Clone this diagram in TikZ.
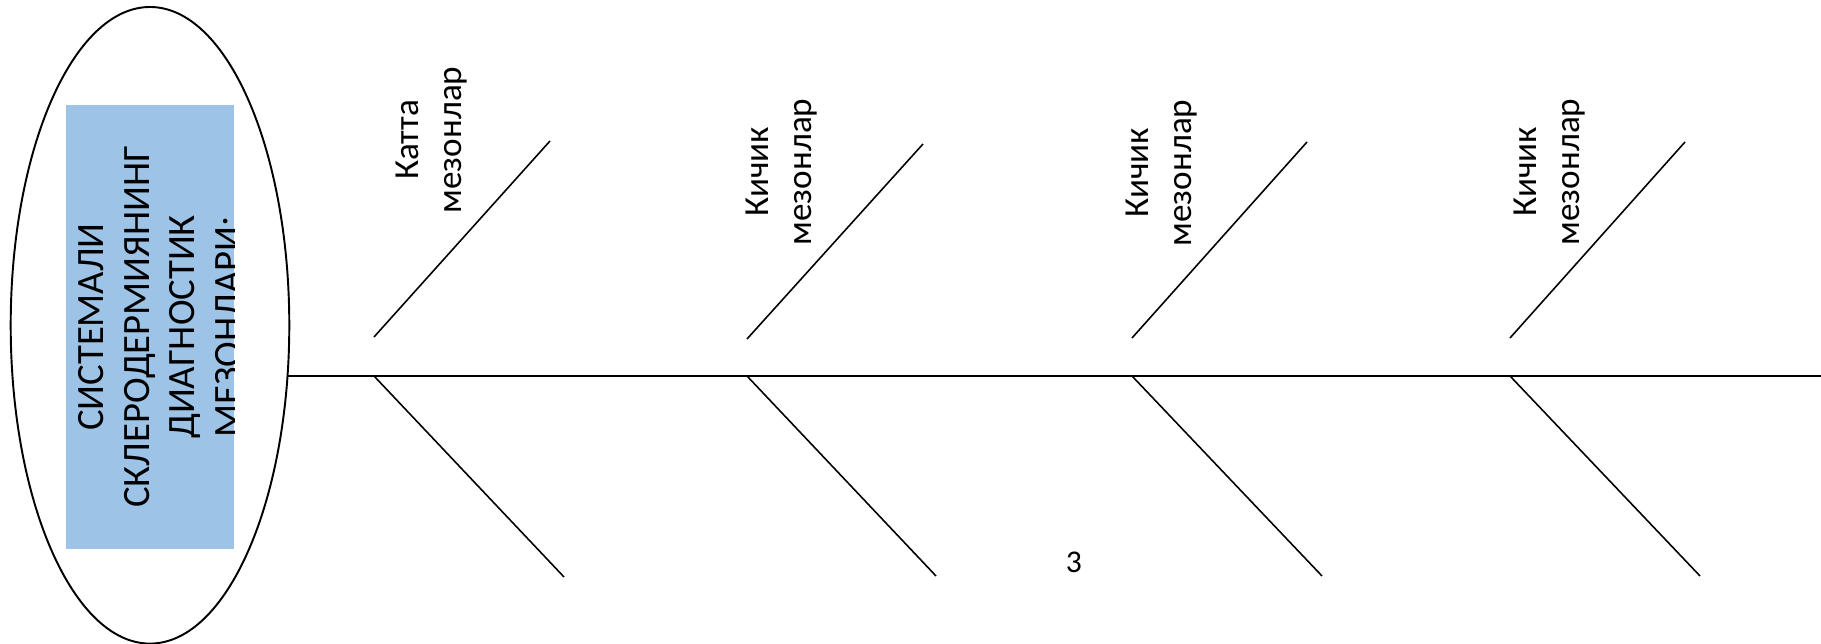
\documentclass[tikz,border=0pt]{standalone}
\usepackage{fontspec}
\setmainfont{Carlito}
\usetikzlibrary{shapes.geometric}
\definecolor{boxblue}{RGB}{157,195,230}

\begin{document}
\begin{tikzpicture}[line width=.45pt]

        \useasboundingbox (0,0) rectangle (18.21,6.44);

        % head of the diagram
        \node (head) [ellipse,draw,line width=.55pt,inner sep=0pt,outer sep=0pt,
          minimum width=2.786cm,minimum height=6.366cm] at (1.50,3.187) {};
        \node (title) [fill=boxblue,inner sep=0pt,
          minimum width=1.68cm,minimum height=4.435cm] at (1.50,3.17) {};
        \begin{scope}
          \clip (title.south west) rectangle (title.north east);
          \node (titletext) [rotate=90,anchor=north,align=center,inner sep=0pt,
            font=\fontsize{11}{12.95}\selectfont] at (0.78,3.17)
            {СИСТЕМАЛИ\\СКЛЕРОДЕРМИЯНИНГ\\ДИАГНОСТИК\\МЕЗОНЛАРИ:};
        \end{scope}

        \begin{scope}[every node/.style={coordinate}]
          \node (s0) at (2.875,2.68) {};
          \node (s1) at (18.21,2.68) {};
          \node (u1) at (3.74,3.07)  {};
          \node (t1) at (5.50,5.03)  {};
          \node (d1) at (3.74,2.68)  {};
          \node (e1) at (5.64,0.67)  {};
          \node (u2) at (7.47,3.05)  {};
          \node (t2) at (9.23,5.00)  {};
          \node (d2) at (7.47,2.68)  {};
          \node (e2) at (9.36,0.68)  {};
          \node (u3) at (11.32,3.06) {};
          \node (t3) at (13.07,5.02) {};
          \node (d3) at (11.32,2.68) {};
          \node (e3) at (13.22,0.68) {};
          \node (u4) at (15.10,3.06) {};
          \node (t4) at (16.85,5.02) {};
          \node (d4) at (15.10,2.68) {};
          \node (e4) at (17.00,0.68) {};
        \end{scope}

        \begin{scope}[every edge/.style={draw}]
          \path (s0) edge[line width=.6pt] (s1);
          \path (u1) edge (t1);
          \path (d1) edge (e1);
          \path (u2) edge (t2);
          \path (d2) edge (e2);
          \path (u3) edge (t3);
          \path (d3) edge (e3);
          \path (u4) edge (t4);
          \path (d4) edge (e4);
        \end{scope}

        \begin{scope}[every node/.style={rotate=90,anchor=north,align=center,
            inner sep=0pt,font=\fontsize{10}{12.2}\selectfont}]
          \node (l1) at (3.95,5.04)  {Катта\\мезонлар};
          \node (l2) at (7.45,4.72)  {Кичик\\мезонлар};
          \node (l3) at (11.25,4.71) {Кичик\\мезонлар};
          \node (l4) at (15.13,4.72) {Кичик\\мезонлар};
        \end{scope}

        \node (num) [font=\fontsize{9}{11}\selectfont] at (10.74,0.82) {3};

      \end{tikzpicture}
\end{document}
